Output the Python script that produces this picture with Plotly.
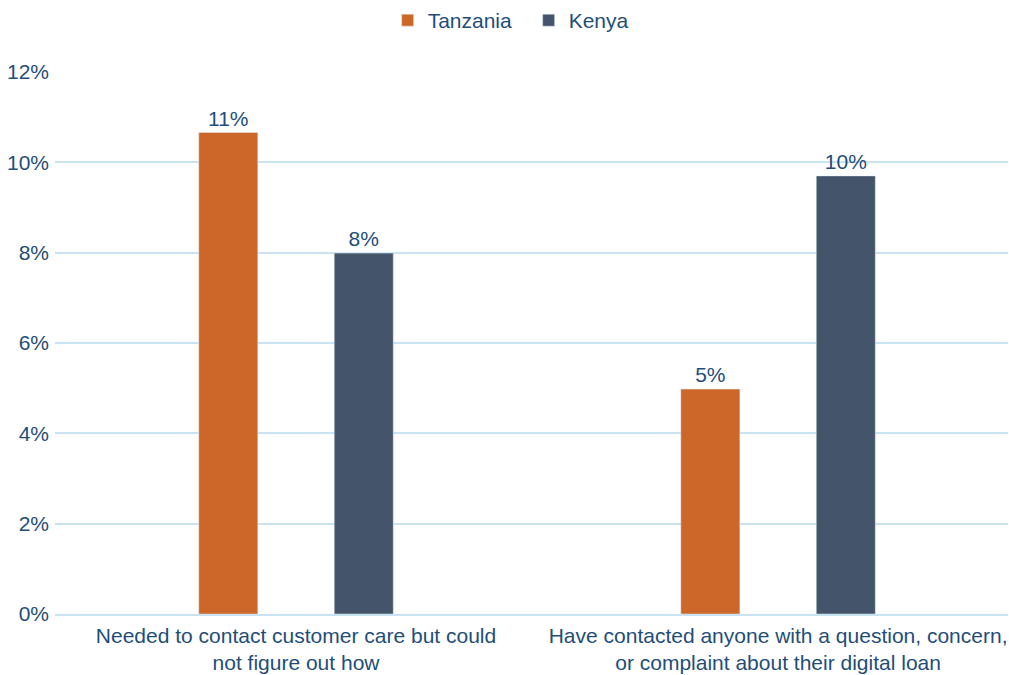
import plotly.graph_objects as go

categories = [
    "Needed to contact customer care but could<br>not figure out how",
    "Have contacted anyone with a question, concern,<br>or complaint about their digital loan",
]
tanzania = [10.66, 4.98]
kenya = [7.99, 9.70]
y_ticks = [0, 2, 4, 6, 8, 10, 12]

TEXT = "#1f4e79"
FONT = "Liberation Sans, Arial, sans-serif"
FS = 21

fig = go.Figure()
fig.add_trace(go.Bar(
    name="Tanzania", x=categories, y=tanzania,
    marker_color="#cc6629",
    text=[f"{v:.0f}%" for v in tanzania], textposition="outside",
    textfont=dict(size=FS, color=TEXT), cliponaxis=False,
))
fig.add_trace(go.Bar(
    name="Kenya", x=categories, y=kenya,
    marker_color="#44546a",
    text=[f"{v:.0f}%" for v in kenya], textposition="outside",
    textfont=dict(size=FS, color=TEXT), cliponaxis=False,
))

fig.update_layout(
    width=1009, height=675,
    margin=dict(l=55, r=1, t=72, b=61, autoexpand=False),
    paper_bgcolor="white", plot_bgcolor="white",
    font=dict(family=FONT, size=FS, color=TEXT),
    barmode="group", bargap=0.438, bargroupgap=0.564,
    legend=dict(orientation="h", x=0.497, xanchor="center", y=1.095, yanchor="middle",
                font=dict(size=FS, color=TEXT), entrywidth=96),
    showlegend=True,
)
fig.update_yaxes(
    range=[0, 12], tickvals=y_ticks, ticktext=[f"{t}%" for t in y_ticks],
    showgrid=True, gridcolor="#c9e3f2", gridwidth=1.5,
    zeroline=False, showline=False, ticks="", ticklabelstandoff=5,
    tickfont=dict(size=FS, color=TEXT),
)
fig.update_xaxes(
    range=[-0.5, 1.477],
    showline=True, linecolor="#c9e3f2", linewidth=1.5,
    ticks="", tickfont=dict(size=FS, color=TEXT), ticklabelstandoff=2,
)

fig.write_html("out.html")
